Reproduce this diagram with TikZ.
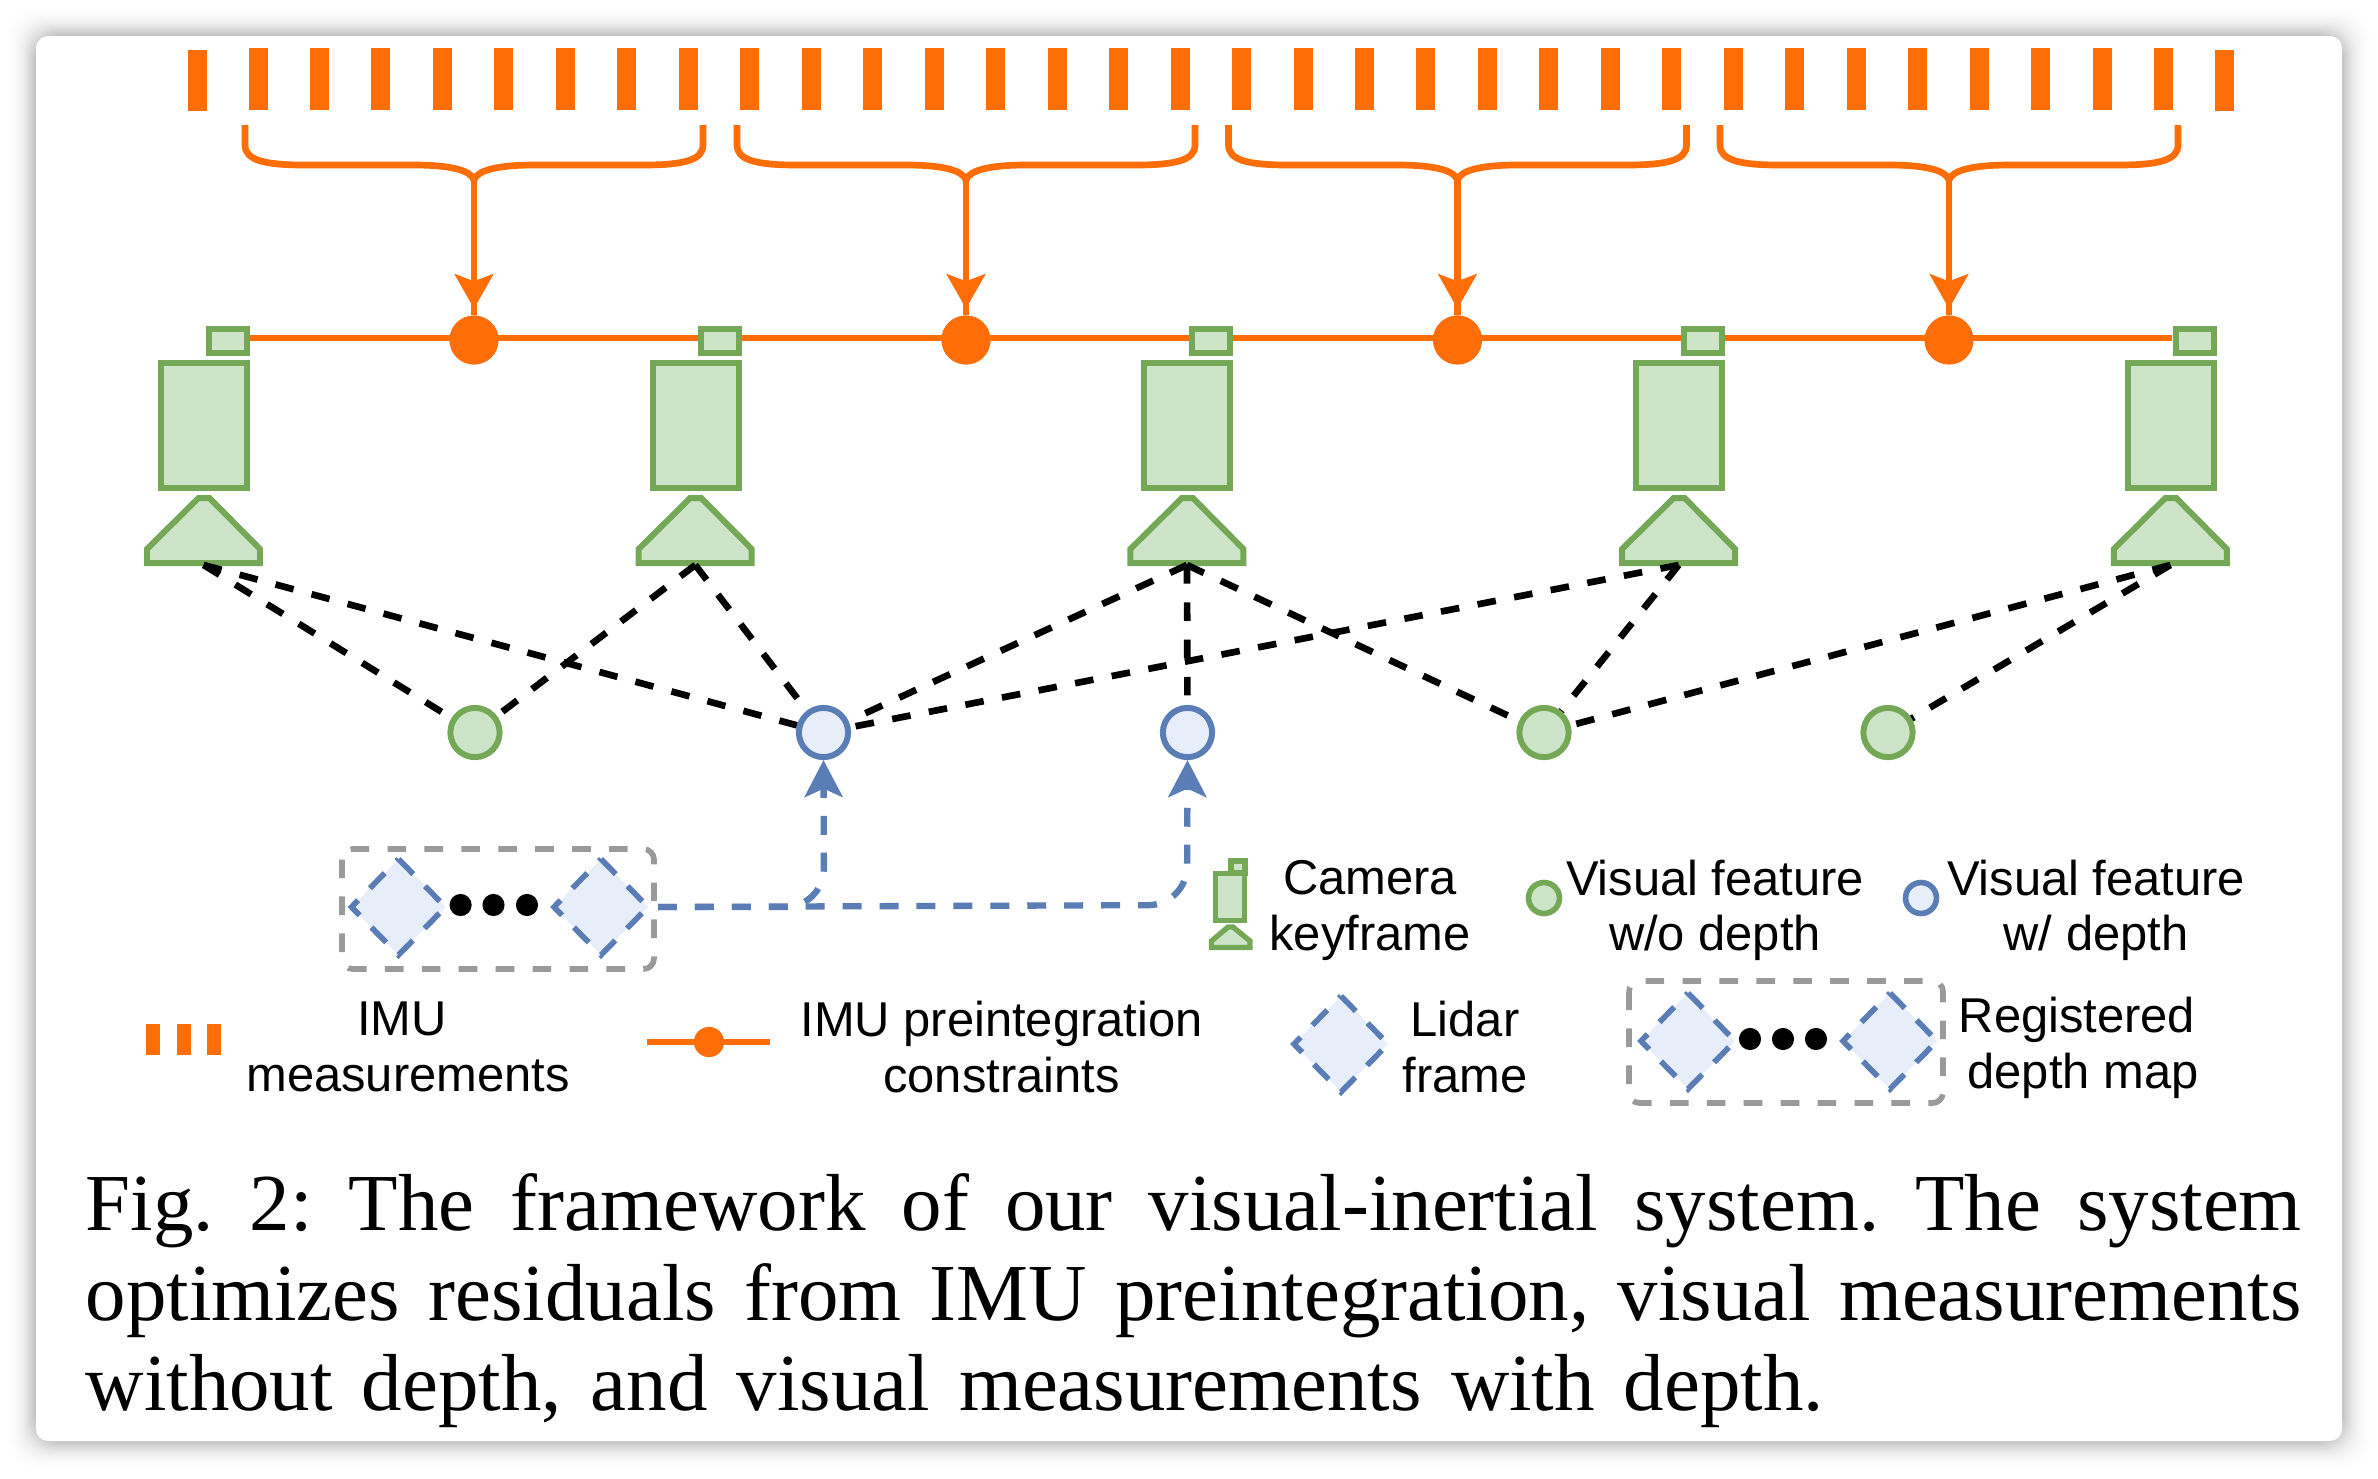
\documentclass[tikz,border=0pt]{standalone}
\usepackage{fontspec}
\setmainfont{Liberation Sans}
\newfontfamily\capfont{Liberation Serif}
\usetikzlibrary{arrows.meta,calc}
\definecolor{org}{HTML}{FF6D07}
\definecolor{grn}{HTML}{74A857}
\definecolor{grnf}{HTML}{CDE4C8}
\definecolor{blu}{HTML}{5A7DB5}
\definecolor{bluf}{HTML}{E7EEFA}
\definecolor{gry}{HTML}{9A9A9A}
\tikzset{
  x=0.01cm,y=-0.01cm,
  imubar/.style={fill=org,draw=none},
  bracket/.style={draw=org,line width=1.9pt,line join=round},
  camshape/.style={draw=grn,fill=grnf,line width=1.7pt},
  obs/.style={draw=black,line width=1.9pt,dash pattern=on 5.3pt off 5.3pt},
  featg/.style={circle,draw=grn,fill=grnf,line width=1.7pt,minimum size=14pt,inner sep=0pt},
  featb/.style={circle,draw=blu,fill=bluf,line width=1.7pt,minimum size=14pt,inner sep=0pt},
  factor/.style={circle,fill=org,draw=none,minimum size=14pt,inner sep=0pt},
  feedline/.style={draw=blu,line width=1.8pt,dash pattern=on 5.4pt off 5.1pt,rounded corners=11pt},
  groupbox/.style={draw=gry,line width=1.6pt,dash pattern=on 5.3pt off 5.2pt,rounded corners=3pt},
  lidarshape/.style={draw=blu,fill=bluf,line width=1.6pt,dash pattern=on 6pt off 4.8pt},
  blackdot/.style={circle,fill=black,draw=none,minimum size=6.3pt,inner sep=0pt},
  lab/.style={font=\fontsize{13.9}{15.8}\selectfont,align=center,inner sep=0pt},
  capline/.style={font=\fontsize{23}{26}\capfont\frenchspacing,anchor=base west,inner sep=0pt},
  headO/.style={-{Stealth[length=9.8pt,width=10.9pt,inset=2pt]}},
  headB/.style={-{Stealth[length=10.5pt,width=10.8pt,inset=2.4pt]}},
}
\newcommand{\lidar}[3]{\path[lidarshape] (#1,#2-48) -- (#1+47,#2) -- (#1,#2+48) -- (#1-47,#2) -- cycle;
  \coordinate (#3) at (#1,#2);}
\begin{document}
\begin{tikzpicture}
\useasboundingbox (0,0) rectangle (2378,1478);
% card with soft shadow
\fill[white] (0,0) rectangle (2378,1478);
\foreach \g in {34,32,...,2}{
  \pgfmathsetmacro{\al}{0.043*((36-\g)/36)^2}
  \fill[black,opacity=\al,rounded corners=8pt] (36-\g,36-\g) rectangle (2342+\g,1441+\g);
}
\fill[white,rounded corners=3.5pt] (36,36) rectangle (2342,1441);
% imu bars
\fill[imubar] (188,50) rectangle (207,111);
\foreach \k in {0,...,31}{
  \fill[imubar] ({248.5+61.47*\k},48) rectangle ({267.5+61.47*\k},110);
}
\fill[imubar] (2215,50) rectangle (2234,111);
% preintegration line
\coordinate (railL) at (249,338);
\coordinate (railR) at (2172,338);
\draw[org,line width=1.7pt] (railL) -- (railR);
% factors and brackets
\foreach \i/\cx in {1/474,2/966,3/1457.5,4/1949}{
  \node[factor] (fac\i) at (\cx,340) {};
  \coordinate (brT\i) at (\cx,180);
  \draw[bracket] (\cx-229,125) -- (\cx-229,145) .. controls (\cx-229,160) and (\cx-210,165) .. (\cx-170,165)
     -- (\cx-60,165) .. controls (\cx-25,165) and (\cx-3,170) .. (brT\i);
  \draw[bracket] (\cx+229,125) -- (\cx+229,145) .. controls (\cx+229,160) and (\cx+210,165) .. (\cx+170,165)
     -- (\cx+60,165) .. controls (\cx+25,165) and (\cx+3,170) .. (brT\i);
  \draw[org,line width=1.9pt] (brT\i) -- (fac\i.north);
  \draw[org,line width=1.9pt,headO,shorten >=1.7pt] (brT\i) -- (fac\i.north);
}
% cameras
\foreach \i/\dx in {1/0,2/491.7,3/983.4,4/1475.1,5/1966.8}{
  \begin{scope}[shift={(\dx,0)}]
  \draw[camshape] (209,329) rectangle (247,353);
  \draw[camshape] (161,363) rectangle (247,488);
  \draw[camshape,line join=miter] (147,563) -- (260,563) -- (260,549) -- (209.5,498) -- (198.5,498) -- (147,549) -- cycle;
  \coordinate (cam\i) at (203.6,565);
  \end{scope}
}
% features
\node[featg] (f1) at (475,732.5) {};
\node[featb] (f2) at (823.5,732.5) {};
\node[featb] (f3) at (1187.5,732.5) {};
\node[featg] (f4) at (1544,732.5) {};
\node[featg] (f5) at (1888,732.5) {};
% observations
\foreach \a/\b in {cam1/f1,cam1/f2,cam2/f1,cam2/f2,cam3/f2,cam3/f3,cam3/f4,cam4/f2,cam4/f4,cam5/f4,cam5/f5}{
  \draw[obs] (\a) -- (\b);
}
% lidar group
\draw[groupbox] (342,849) rectangle (654,969);
\lidar{398.5}{907}{lidA}
\lidar{601}{907}{lidB}
\node[blackdot] (d1) at (460.6,905) {};
\node[blackdot] (d2) at (493.5,905) {};
\node[blackdot] (d3) at (527,905) {};
\coordinate (grpE) at (658,907);
\coordinate (bend2) at (824,907);
\coordinate (bend3) at (1187,905);
\draw[feedline,headB] (grpE) -- (bend2) -- (f2.south);
\draw[feedline,headB] (grpE) -- (bend3) -- (f3.south);
% legend: camera
\draw[camshape,line width=1.5pt] (1231,861) rectangle (1245,873);
\draw[camshape,line width=1.5pt] (1215.5,873.5) rectangle (1244.5,920.5);
\draw[camshape,line width=1.5pt] (1211.5,947.5) -- (1250,947.5) -- (1250,941) -- (1233,927) -- (1228,927) -- (1211.5,941) -- cycle;
\node[lab] (tCam) at (1370,910.5) {Camera\\keyframe};
\node[featg,minimum size=8.8pt,line width=1.6pt] (lg) at (1544,898) {};
\node[lab] (tVis1) at (1715,910.5) {Visual feature\\w/o depth};
\node[featb,minimum size=8.8pt,line width=1.6pt] (lb) at (1921,898) {};
\node[lab] (tVis2) at (2096,910.5) {Visual feature\\w/ depth};
% legend row 2
\foreach \x in {146,177,207}{\fill[imubar] (\x,1024) rectangle (\x+13.5,1055);}
\node[lab] (tImu) at (408,1047) {IMU\hspace*{3.4pt}\\measurements};
\coordinate (legL) at (647,1042);
\coordinate (legR) at (770,1042);
\draw[org,line width=1.7pt] (legL) -- (legR);
\node[factor,minimum size=8.6pt] (lf) at (709,1042) {};
\node[lab] (tPre) at (1001.5,1047) {IMU preintegration\\constraints};
\lidar{1341}{1044}{lidL}
\node[lab] (tLid) at (1465,1047) {Lidar\\frame};
\draw[groupbox] (1629,981) rectangle (1943,1103);
\lidar{1688}{1041}{lidC}
\lidar{1890}{1041}{lidD}
\node[blackdot] (d4) at (1750,1039) {};
\node[blackdot] (d5) at (1783,1039) {};
\node[blackdot] (d6) at (1816,1039) {};
\node[lab] (tReg) at (2077,1048) {Registered\\\hspace*{3.4pt}depth map};
% caption
\node[capline] (c1) at (85,1230) {\makebox[\dimexpr2216\dimexpr0.01cm\relax\relax][s]{Fig. 2: The framework of our visual-inertial system. The system}};
\node[capline] (c2) at (85,1320) {\makebox[\dimexpr2216\dimexpr0.01cm\relax\relax][s]{optimizes residuals from IMU preintegration, visual measurements}};
\node[capline] (c3) at (85,1410) {\makebox[\dimexpr1738\dimexpr0.01cm\relax\relax][s]{without depth, and visual measurements with depth.}};
\end{tikzpicture}
\end{document}
